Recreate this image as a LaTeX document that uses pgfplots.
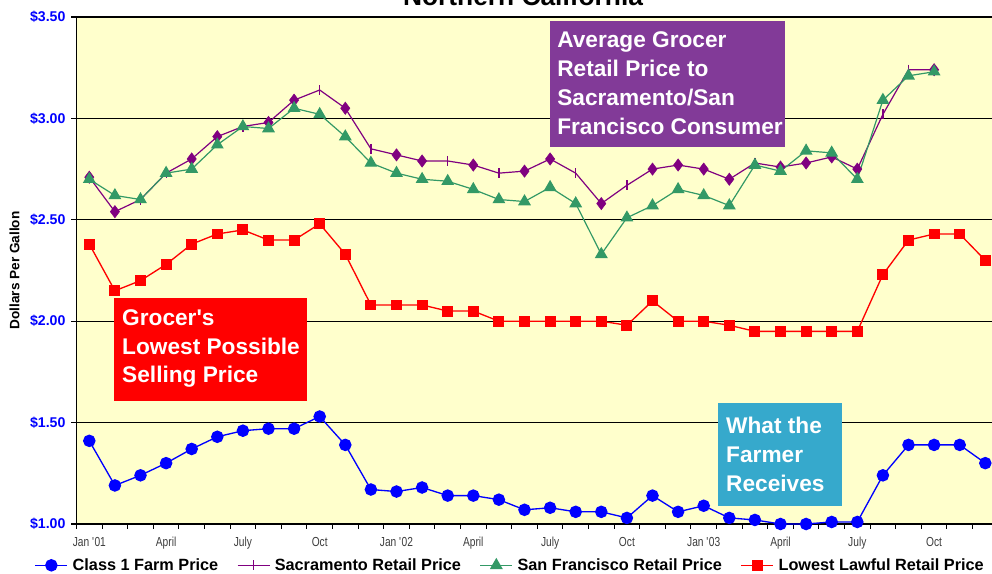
\documentclass[border=0pt]{standalone}
\usepackage{fontspec}
\setmainfont{Liberation Sans}
\newfontfamily\narrowfont[FakeStretch=0.78]{Liberation Sans}
\usepackage{pgfplots}
\pgfplotsset{compat=1.18}
\definecolor{bgyellow}{HTML}{FFFFCC}
\definecolor{sacpurple}{HTML}{800080}
\definecolor{sfgreen}{HTML}{339966}
\definecolor{boxpurple}{RGB}{130,58,152}
\definecolor{boxcyan}{RGB}{54,169,204}
\definecolor{ticktext}{RGB}{60,60,60}
\begin{document}
\begin{tikzpicture}
\begin{scope}
\clip (-57.375pt,-37.5pt) rectangle (686.625pt,393pt);
\begin{axis}[
  at={(0,0)}, anchor=south west,
  scale only axis, width=691.2pt, height=380.25pt,
  xmin=-0.5, xmax=35.5, ymin=1, ymax=3.5,
  clip=false,
  axis background/.style={fill=bgyellow},
  axis line style={black, line width=1pt},
  tick pos=left, tick align=outside,
  major tick length=3.75pt,
  tick style={black, line width=0.8pt},
  ytick={1,1.5,2,2.5,3,3.5},
  yticklabels={\$1.00,\$1.50,\$2.00,\$2.50,\$3.00,\$3.50},
  yticklabel style={font=\fontsize{10.6}{12}\selectfont\bfseries, text=blue, xshift=-1pt},
  ymajorgrids, grid style={black, line width=0.8pt},
  xtick={-0.5,0.5,...,35.5},
  xticklabels={},
  extra x ticks={0,3,6,9,12,15,18,21,24,27,30,33},
  extra x tick labels={Jan \textquotesingle 01,April,July,Oct,Jan \textquotesingle 02,April,July,Oct,Jan \textquotesingle 03,April,July,Oct},
  extra x tick style={major tick length=0pt, xticklabel style={font=\narrowfont\fontsize{9.8}{11}\selectfont, text=ticktext, anchor=north, text height=7pt, text depth=2pt, inner sep=0pt, yshift=-9.5pt}},
  ylabel={Dollars Per Gallon},
  every axis y label/.style={at={(axis description cs:-0.0673,0.5)}, rotate=90, anchor=center, font=\fontsize{10.2}{12}\selectfont\bfseries},
  legend columns=4,
  legend style={at={(axis description cs:0.471,-0.0815)}, anchor=center, draw=none, fill=none,
    font=\fontsize{12.2}{14}\selectfont\bfseries,
    /tikz/every even column/.append style={column sep=12pt},
    /tikz/every odd column/.append style={column sep=1.5pt}},
  legend image code/.code={\draw[mark repeat=2,mark phase=2,#1] plot coordinates {(0pt,0pt) (12pt,0pt) (24pt,0pt)};},
]
\addplot[blue, line width=1pt, mark=*, mark size=4.2pt] coordinates {
(0,1.41) (1,1.19) (2,1.24) (3,1.30) (4,1.37) (5,1.43) (6,1.46) (7,1.47) (8,1.47) (9,1.53)
(10,1.39) (11,1.17) (12,1.16) (13,1.18) (14,1.14) (15,1.14) (16,1.12) (17,1.07) (18,1.08) (19,1.06)
(20,1.06) (21,1.03) (22,1.14) (23,1.06) (24,1.09) (25,1.03) (26,1.02) (27,1.00) (28,1.00) (29,1.01)
(30,1.01) (31,1.24) (32,1.39) (33,1.39) (34,1.39) (35,1.30)};
\addlegendentry{Class 1 Farm Price}
\addplot[sacpurple, line width=0.9pt, mark=|, mark size=3.75pt] coordinates {
(0,2.71) (1,2.54) (2,2.60) (3,2.73) (4,2.80) (5,2.91) (6,2.96) (7,2.98) (8,3.09) (9,3.14)
(10,3.05) (11,2.85) (12,2.82) (13,2.79) (14,2.79) (15,2.77) (16,2.73) (17,2.74) (18,2.80) (19,2.73)
(20,2.58) (21,2.67) (22,2.75) (23,2.77) (24,2.75) (25,2.70) (26,2.78) (27,2.76) (28,2.78) (29,2.81)
(30,2.75) (31,3.02) (32,3.24) (33,3.24)};
\addlegendentry{Sacramento Retail Price}
\addplot[sacpurple, only marks, mark=diamond*, mark size=4.6pt, forget plot] coordinates {
(0,2.71) (1,2.54) (4,2.80) (5,2.91) (7,2.98) (8,3.09) (10,3.05) (12,2.82) (13,2.79) (15,2.77)
(17,2.74) (18,2.80) (20,2.58) (22,2.75) (23,2.77) (24,2.75) (25,2.70) (27,2.76) (28,2.78) (29,2.81)
(30,2.75) (33,3.24)};
\addplot[sfgreen, line width=0.9pt, mark=triangle*, mark size=4.7pt] coordinates {
(0,2.70) (1,2.62) (2,2.60) (3,2.73) (4,2.75) (5,2.87) (6,2.96) (7,2.95) (8,3.05) (9,3.02)
(10,2.91) (11,2.78) (12,2.73) (13,2.70) (14,2.69) (15,2.65) (16,2.60) (17,2.59) (18,2.66) (19,2.58)
(20,2.33) (21,2.51) (22,2.57) (23,2.65) (24,2.62) (25,2.57) (26,2.77) (27,2.74) (28,2.84) (29,2.83)
(30,2.70) (31,3.09) (32,3.21) (33,3.23)};
\addlegendentry{San Francisco Retail Price}
\addplot[red, line width=1pt, mark=square*, mark size=3.6pt] coordinates {
(0,2.38) (1,2.15) (2,2.20) (3,2.28) (4,2.38) (5,2.43) (6,2.45) (7,2.40) (8,2.40) (9,2.48)
(10,2.33) (11,2.08) (12,2.08) (13,2.08) (14,2.05) (15,2.05) (16,2.00) (17,2.00) (18,2.00) (19,2.00)
(20,2.00) (21,1.98) (22,2.10) (23,2.00) (24,2.00) (25,1.98) (26,1.95) (27,1.95) (28,1.95) (29,1.95)
(30,1.95) (31,2.23) (32,2.40) (33,2.43) (34,2.43) (35,2.30)};
\addlegendentry{Lowest Lawful Retail Price}
\end{axis}
% title
\node[anchor=base, font=\fontsize{19.75}{24}\selectfont\bfseries] at (334.9pt,388.5pt) {Northern California};
% annotation boxes
\fill[boxpurple] (355.1pt,282.75pt) rectangle (531.4pt,377.25pt);
\fill[red] (28.1pt,92.25pt) rectangle (172.9pt,169.5pt);
\fill[boxcyan] (481.1pt,13.5pt) rectangle (574.1pt,90.75pt);
\begin{scope}[every node/.style={anchor=base west, inner sep=0pt, text=white, font=\fontsize{17}{21.6}\selectfont\bfseries}]
\node at (360.4pt,357.2pt) {Average Grocer};
\node at (360.4pt,335.6pt) {Retail Price to};
\node at (360.4pt,314.0pt) {Sacramento/San};
\node at (360.4pt,292.4pt) {Francisco Consumer};
\node at (34.1pt,148.7pt) {Grocer\textquotesingle s};
\node at (34.1pt,127.3pt) {Lowest Possible};
\node at (34.1pt,105.9pt) {Selling Price};
\node at (487.1pt,67.5pt) {What the};
\node at (487.1pt,45.9pt) {Farmer};
\node at (487.1pt,24.3pt) {Receives};
\end{scope}
\end{scope}
\pgfresetboundingbox
\useasboundingbox (-57.375pt,-37.5pt) rectangle (686.625pt,393pt);
\end{tikzpicture}
\end{document}
